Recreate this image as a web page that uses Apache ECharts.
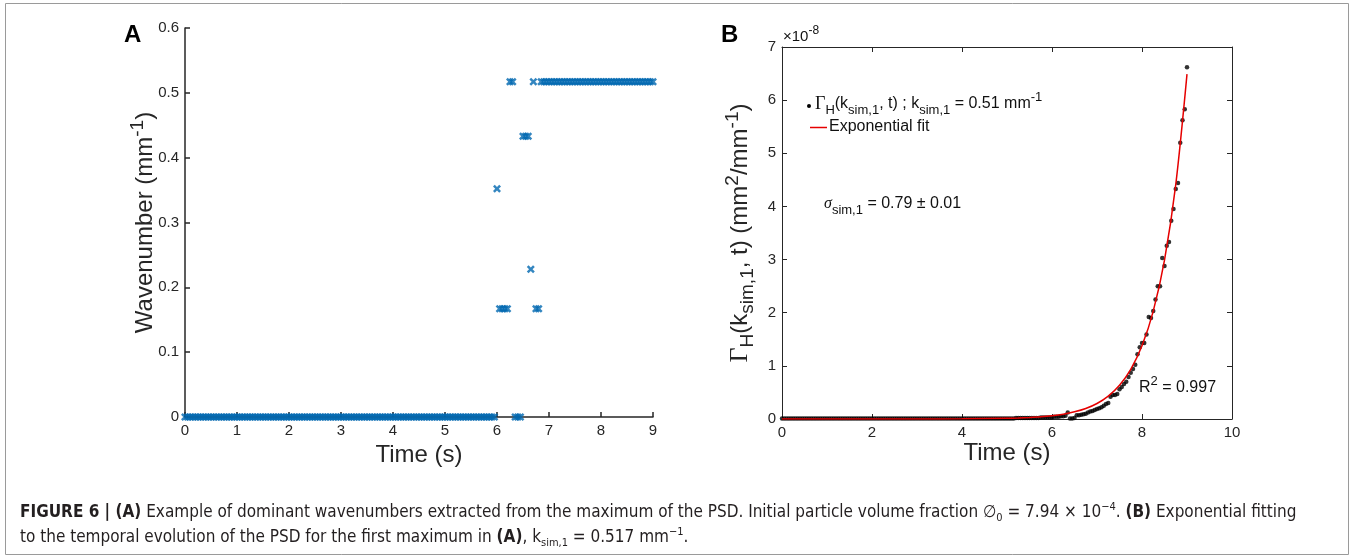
<!DOCTYPE html>
<html>
<head>
<meta charset="utf-8">
<script src="https://cdn.jsdelivr.net/npm/echarts@6/dist/echarts.min.js"></script>
<style>
    body { margin: 0; background: #fff; }
    #cn { width: 1354px; height: 558px; }
</style>
</head>
<body>
<div id="cn"></div>
<script>
'use strict';

// sampling times (s), shared by both panels
const arrTime = [
    0, 0.05, 0.1, 0.15, 0.2, 0.25, 0.3, 0.35, 0.4, 0.45, 0.5, 0.55, 0.6, 0.65, 0.7, 0.75, 0.8, 0.85, 0.9, 0.95,
    1, 1.05, 1.1, 1.15, 1.2, 1.25, 1.3, 1.35, 1.4, 1.45, 1.5, 1.55, 1.6, 1.65, 1.7, 1.75, 1.8, 1.85, 1.9, 1.95,
    2, 2.05, 2.1, 2.15, 2.2, 2.25, 2.3, 2.35, 2.4, 2.45, 2.5, 2.55, 2.6, 2.65, 2.7, 2.75, 2.8, 2.85, 2.9, 2.95,
    3, 3.05, 3.1, 3.15, 3.2, 3.25, 3.3, 3.35, 3.4, 3.45, 3.5, 3.55, 3.6, 3.65, 3.7, 3.75, 3.8, 3.85, 3.9, 3.95,
    4, 4.05, 4.1, 4.15, 4.2, 4.25, 4.3, 4.35, 4.4, 4.45, 4.5, 4.55, 4.6, 4.65, 4.7, 4.75, 4.8, 4.85, 4.9, 4.95,
    5, 5.05, 5.1, 5.15, 5.2, 5.25, 5.3, 5.35, 5.4, 5.45, 5.5, 5.55, 5.6, 5.65, 5.7, 5.75, 5.8, 5.85, 5.9, 5.95,
    6, 6.05, 6.1, 6.15, 6.2, 6.25, 6.3, 6.35, 6.4, 6.45, 6.5, 6.55, 6.6, 6.65, 6.7, 6.75, 6.8, 6.85, 6.9, 6.95,
    7, 7.05, 7.1, 7.15, 7.2, 7.25, 7.3, 7.35, 7.4, 7.45, 7.5, 7.55, 7.6, 7.65, 7.7, 7.75, 7.8, 7.85, 7.9, 7.95,
    8, 8.05, 8.1, 8.15, 8.2, 8.25, 8.3, 8.35, 8.4, 8.45, 8.5, 8.55, 8.6, 8.65, 8.7, 8.75, 8.8, 8.85, 8.9, 8.95,
    9
];

// (A) dominant wavenumber (mm^-1)
const arrWave = [
    0, 0, 0, 0, 0, 0, 0, 0, 0, 0, 0, 0, 0, 0, 0, 0, 0, 0, 0, 0,
    0, 0, 0, 0, 0, 0, 0, 0, 0, 0, 0, 0, 0, 0, 0, 0, 0, 0, 0, 0,
    0, 0, 0, 0, 0, 0, 0, 0, 0, 0, 0, 0, 0, 0, 0, 0, 0, 0, 0, 0,
    0, 0, 0, 0, 0, 0, 0, 0, 0, 0, 0, 0, 0, 0, 0, 0, 0, 0, 0, 0,
    0, 0, 0, 0, 0, 0, 0, 0, 0, 0, 0, 0, 0, 0, 0, 0, 0, 0, 0, 0,
    0, 0, 0, 0, 0, 0, 0, 0, 0, 0, 0, 0, 0, 0, 0, 0, 0, 0, 0, 0,
    0.352, 0.167, 0.167, 0.167, 0.167, 0.517, 0.517, 0, 0, 0, 0.433, 0.433, 0.433, 0.228, 0.517, 0.167, 0.167, 0.517, 0.517, 0.517,
    0.517, 0.517, 0.517, 0.517, 0.517, 0.517, 0.517, 0.517, 0.517, 0.517, 0.517, 0.517, 0.517, 0.517, 0.517, 0.517, 0.517, 0.517, 0.517, 0.517,
    0.517, 0.517, 0.517, 0.517, 0.517, 0.517, 0.517, 0.517, 0.517, 0.517, 0.517, 0.517, 0.517, 0.517, 0.517, 0.517, 0.517, 0.517, 0.517, 0.517,
    0.517
];

// (B) PSD amplitude, in units of 1e-8 mm^2/mm^-1
const arrGamma = [
    0.01, 0.01, 0.01, 0.01, 0.01, 0.01, 0.01, 0.01, 0.01, 0.01, 0.01, 0.01, 0.01, 0.01, 0.01, 0.01, 0.01, 0.01, 0.01, 0.01,
    0.01, 0.01, 0.01, 0.01, 0.01, 0.01, 0.01, 0.01, 0.01, 0.01, 0.01, 0.01, 0.01, 0.01, 0.01, 0.01, 0.01, 0.01, 0.01, 0.01,
    0.01, 0.01, 0.01, 0.01, 0.01, 0.01, 0.01, 0.01, 0.01, 0.01, 0.01, 0.01, 0.01, 0.01, 0.01, 0.01, 0.01, 0.01, 0.01, 0.01,
    0.01, 0.01, 0.01, 0.01, 0.01, 0.01, 0.01, 0.01, 0.01, 0.01, 0.01, 0.01, 0.01, 0.01, 0.01, 0.01, 0.01, 0.01, 0.01, 0.01,
    0.01, 0.01, 0.01, 0.01, 0.01, 0.01, 0.01, 0.01, 0.01, 0.01, 0.01, 0.01, 0.01, 0.01, 0.01, 0.01, 0.01, 0.01, 0.01, 0.01,
    0.01, 0.01, 0.01, 0.01, 0.02, 0.02, 0.02, 0.02, 0.02, 0.02, 0.02, 0.02, 0.02, 0.02, 0.02, 0.03, 0.03, 0.03, 0.03, 0.03,
    0.03, 0.04, 0.04, 0.04, 0.05, 0.05, 0.06, 0.12, 0.01, 0.01, 0.02, 0.07, 0.07, 0.08, 0.09, 0.10, 0.12, 0.14, 0.15, 0.17,
    0.19, 0.20, 0.22, 0.25, 0.28, 0.30, 0.42, 0.45, 0.45, 0.47, 0.56, 0.60, 0.66, 0.70, 0.79, 0.87, 0.94, 1.02, 1.22, 1.35,
    1.43, 1.43, 1.59, 1.92, 1.90, 2.03, 2.25, 2.50, 2.50, 3.03, 2.88, 3.26, 3.33, 3.73, 3.95, 4.33, 4.44, 5.20, 5.62, 5.83,
    6.62
];

// exponential fit curve (same units)
const arrFitT = [0, 1, 2, 3, 4, 5, 5.25, 5.5, 5.75, 6, 6.25, 6.5, 6.75, 7, 7.25, 7.5, 7.75, 8, 8.25, 8.5, 8.75, 9];
const arrFitV = [0, 0, 0, 0.001, 0.003, 0.013, 0.019, 0.029, 0.042, 0.062, 0.091, 0.135, 0.198, 0.292, 0.431, 0.635, 0.935, 1.377, 2.03, 2.99, 4.41, 6.49];

const strFont = 'Liberation Sans, Arial, sans-serif';
const strSerif = 'Liberation Serif, Times New Roman, serif';
const strInk = '#262626';

// rich text styles for sub/superscripts
const mkRich = (fs) => ({
    sup: { fontSize: Math.round(fs * 0.8), fontFamily: strFont, verticalAlign: 'top', lineHeight: Math.round(fs * 0.75) },
    sub: { fontSize: Math.round(fs * 0.8), fontFamily: strFont, verticalAlign: 'bottom', lineHeight: Math.round(fs * 0.75) },
    g: { fontSize: fs + 2, fontFamily: strSerif, verticalAlign: 'middle' },
    s: { fontSize: fs, fontFamily: strSerif, fontStyle: 'italic', verticalAlign: 'middle' },
    b: { fontSize: fs, fontFamily: strFont, fontWeight: 'bold', verticalAlign: 'middle' },
    n: { fontSize: fs, fontFamily: strFont, verticalAlign: 'middle' }
});

const axisBase = (w) => ({
    axisLine: { show: true, onZero: false, lineStyle: { color: strInk, width: w } },
    axisTick: { show: true, inside: true, length: 5, lineStyle: { color: strInk, width: w } },
    splitLine: { show: false },
    axisLabel: { color: strInk, fontSize: 15, fontFamily: strFont, margin: 6 },
    nameMoveOverlap: false,
    nameTextStyle: { color: strInk, fontSize: 24, fontFamily: strFont, lineHeight: 34, rich: mkRich(24) }
});

const xSymbol = 'path://M0,2.2L2.2,0L5,2.8L7.8,0L10,2.2L7.2,5L10,7.8L7.8,10L5,7.2L2.2,10L0,7.8L2.8,5Z';

// plain/rich text objects placed on the canvas
const mkText = (x, y, text, fs, extra) => Object.assign({
    type: 'text',
    x: x,
    y: y,
    silent: true,
    style: {
        text: text,
        fontSize: fs,
        fontFamily: strFont,
        fill: '#111',
        textAlign: 'left',
        textVerticalAlign: 'middle',
        align: 'left',
        verticalAlign: 'middle',
        lineHeight: Math.round(fs * 1.6),
        rich: mkRich(fs)
    }
}, extra || {});

const strCapFont = "'DejaVu Sans Condensed', 'Liberation Sans Narrow', sans-serif";
const capRich = {
    b: { fontSize: 17, fontFamily: strCapFont, fontWeight: 'bold', verticalAlign: 'middle', fill: '#231f20' },
    sup: { fontSize: 11, fontFamily: strCapFont, verticalAlign: 'top', lineHeight: 11, fill: '#231f20' },
    sub: { fontSize: 11, fontFamily: strCapFont, verticalAlign: 'bottom', lineHeight: 11, fill: '#231f20' }
};

const pandaChart = echarts.init(document.getElementById('cn'), null, { renderer: 'canvas' });

const option = {
    backgroundColor: '#fff',
    animation: false,
    grid: [{
            left: 185,
            top: 28,
            width: 468,
            height: 389
        },
        {
            left: 782,
            top: 47,
            width: 450,
            height: 372
        }
    ],
    xAxis: [
        Object.assign(axisBase(1.5), {
            gridIndex: 0,
            type: 'value',
            min: 0,
            max: 9,
            interval: 1,
            name: 'Time (s)',
            nameLocation: 'middle',
            nameGap: 21
        }),
        Object.assign(axisBase(1), {
            gridIndex: 1,
            type: 'value',
            min: 0,
            max: 10,
            interval: 2,
            name: 'Time (s)',
            nameLocation: 'middle',
            nameGap: 17
        }),
        Object.assign(axisBase(1), {
            gridIndex: 1,
            type: 'value',
            position: 'top',
            min: 0,
            max: 10,
            interval: 2,
            axisLabel: { show: false }
        })
    ],
    yAxis: [
        Object.assign(axisBase(1.5), {
            gridIndex: 0,
            type: 'value',
            min: 0,
            max: 0.6,
            interval: 0.1,
            name: 'Wavenumber (mm{sup|-1})',
            nameLocation: 'middle',
            nameRotate: 90,
            nameGap: 23
        }),
        Object.assign(axisBase(1), {
            gridIndex: 1,
            type: 'value',
            min: 0,
            max: 7,
            interval: 1,
            name: '{g|Γ}{sub|H}(k{sub|sim,1}, t) (mm{sup|2}/mm{sup|-1})',
            nameLocation: 'middle',
            nameRotate: 90,
            nameGap: 25
        }),
        Object.assign(axisBase(1), {
            gridIndex: 1,
            type: 'value',
            position: 'right',
            min: 0,
            max: 7,
            interval: 1,
            axisLabel: { show: false }
        })
    ],
    series: [{
            name: 'Wavenumber',
            type: 'scatter',
            xAxisIndex: 0,
            yAxisIndex: 0,
            symbol: xSymbol,
            symbolSize: 8,
            clip: false,
            itemStyle: { color: '#0068b0' },
            data: arrTime.map((t, i) => [t, arrWave[i]])
        },
        {
            name: 'Gamma',
            type: 'scatter',
            xAxisIndex: 1,
            yAxisIndex: 1,
            symbol: 'circle',
            symbolSize: 4.5,
            clip: false,
            itemStyle: { color: '#000' },
            data: arrTime.map((t, i) => [t, arrGamma[i]])
        },
        {
            name: 'Exponential fit',
            type: 'line',
            xAxisIndex: 1,
            yAxisIndex: 1,
            smooth: 0.3,
            showSymbol: false,
            z: 3,
            lineStyle: { color: '#e60000', width: 1.5 },
            data: arrFitT.map((t, i) => [t, arrFitV[i]])
        }
    ],
    graphic: [
        // outer frame
        {
            type: 'rect',
            silent: true,
            shape: { x: 5.5, y: 3.5, width: 1343, height: 551 },
            style: { fill: 'none', stroke: '#9a9a9a', lineWidth: 1 }
        },
        // panel letters
        mkText(124, 35, 'A', 24, { style: { text: 'A', fontSize: 24, fontWeight: 'bold', fontFamily: strFont, fill: '#000', textVerticalAlign: 'middle', verticalAlign: 'middle' } }),
        mkText(721, 35, 'B', 24, { style: { text: 'B', fontSize: 24, fontWeight: 'bold', fontFamily: strFont, fill: '#000', textVerticalAlign: 'middle', verticalAlign: 'middle' } }),
        // exponent of the B y axis
        mkText(783, 37, '×10{sup|-8}', 15),
        // legend of B
        {
            type: 'circle',
            silent: true,
            shape: { cx: 809, cy: 106, r: 2 },
            style: { fill: '#000' }
        },
        mkText(815, 104, '{g|Γ}{sub|H}(k{sub|sim,1}, t) ; k{sub|sim,1} = 0.51 mm{sup|-1}', 16),
        {
            type: 'line',
            silent: true,
            shape: { x1: 810, y1: 127.5, x2: 827, y2: 127.5 },
            style: { stroke: '#e60000', lineWidth: 1.5 }
        },
        mkText(829, 127, 'Exponential fit', 16),
        mkText(824, 204, '{s|σ}{sub|sim,1} = 0.79 ± 0.01', 16),
        mkText(1139, 388, 'R{sup|2} = 0.997', 16),
        // caption
        {
            type: 'text',
            x: 20,
            y: 513,
            silent: true,
            style: {
                text: '{b|FIGURE 6 | (A)} Example of dominant wavenumbers extracted from the maximum of the PSD. Initial particle volume fraction ∅{sub|0} = 7.94 × 10{sup|−4}. {b|(B)} Exponential fitting',
                fontSize: 17,
                fontFamily: strCapFont,
                fill: '#231f20',
                textVerticalAlign: 'middle',
                verticalAlign: 'middle',
                lineHeight: 22,
                rich: capRich
            }
        },
        {
            type: 'text',
            x: 20,
            y: 538,
            silent: true,
            style: {
                text: 'to the temporal evolution of the PSD for the first maximum in {b|(A)}, k{sub|sim,1} = 0.517 mm{sup|−1}.',
                fontSize: 17,
                fontFamily: strCapFont,
                fill: '#231f20',
                textVerticalAlign: 'middle',
                verticalAlign: 'middle',
                lineHeight: 22,
                rich: capRich
            }
        }
    ]
};

pandaChart.setOption(option);
</script>
</body>
</html>
